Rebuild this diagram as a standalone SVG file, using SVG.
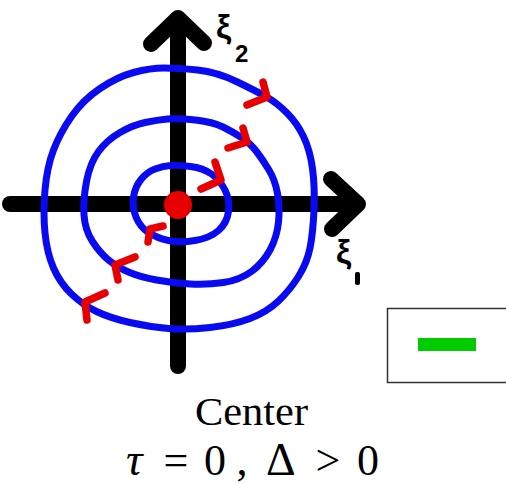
<svg xmlns="http://www.w3.org/2000/svg" width="506" height="484" viewBox="0 0 506 484">
<style>
.axis{fill:none;stroke:#000;stroke-width:16;stroke-linecap:round;stroke-linejoin:round}
.orbit{fill:none;stroke:#0a0af2;stroke-width:7;stroke-linejoin:round;stroke-linecap:round}
.arr{fill:none;stroke:#e80000;stroke-width:7.5;stroke-linecap:round;stroke-linejoin:round}
.hand{font-family:"Liberation Sans","DejaVu Sans",sans-serif;font-weight:bold;fill:#000}
.cap{font-family:"Liberation Serif","DejaVu Serif",serif;fill:#000}
</style>
<rect width="506" height="484" fill="#fff"/>
<g id="axes">
<line class="axis" x1="178" y1="22" x2="178" y2="366"/>
<polyline class="axis" points="151,44 178,18 204,43"/>
<line class="axis" x1="10" y1="204" x2="356" y2="204"/>
<polyline class="axis" points="331,179 358,204 332,229"/>
</g>
<g id="orbits">
<path id="outer" class="orbit" d="M 164,68 Q 178,68 197.5,70 Q 217,72 237.5,82 Q 258,92 267.5,97.5 Q 277,103 287,113 Q 297,123 303.5,136.5 Q 310,150 312.5,168.5 Q 315,187 314,210 Q 313,233 310,248 Q 307,263 298.5,276.5 Q 290,290 278.5,301 Q 267,312 250,318.5 Q 233,325 210,327.5 Q 187,330 168.5,328.5 Q 150,327 130,322.5 Q 110,318 96.5,311.5 Q 83,305 71.5,294 Q 60,283 53.5,268 Q 47,253 45,233 Q 43,213 45,190 Q 47,167 53.5,150 Q 60,133 71.5,116.5 Q 83,100 100,88.5 Q 117,77 133.5,72.5 Q 150,68 164,68 Z"/>
<path id="middle" class="orbit" d="M 167.5,119 Q 178,118 195.5,120 Q 213,122 223,127 Q 233,132 241.5,137.5 Q 250,143 256.5,151.5 Q 263,160 269,170 Q 275,180 277.5,193.5 Q 280,207 278.5,222 Q 277,237 270,250 Q 263,263 251.5,271.5 Q 240,280 223.5,282.5 Q 207,285 190,284 Q 173,283 156.5,280 Q 140,277 128.5,272 Q 117,267 108.5,260 Q 100,253 92.5,241.5 Q 85,230 84,215 Q 83,200 86.5,181.5 Q 90,163 98.5,151.5 Q 107,140 120,132.5 Q 133,125 145,122.5 Q 157,120 167.5,119 Z"/>
<path id="inner" class="orbit" d="M 170.5,165.5 Q 178,165 190.5,166.5 Q 203,168 211.5,174 Q 220,180 225,190 Q 230,200 228.5,211.5 Q 227,223 218.5,230.5 Q 210,238 195,240.5 Q 180,243 168.5,240.5 Q 157,238 148.5,232.5 Q 140,227 136,217 Q 132,207 133.5,197 Q 135,187 141,179.5 Q 147,172 155,169 Q 163,166 170.5,165.5 Z"/>
</g>
<g id="arrows">
<polyline class="arr" points="263,82 267,97 247,105"/>
<polyline class="arr" points="243,128 247,142 228,148"/>
<polyline class="arr" points="215,162 221,180 201,189"/>
<polyline class="arr" points="163,226 150,229 148,242"/>
<polyline class="arr" points="135,257 115,265 118,280"/>
<polyline class="arr" points="105,293 85,302 87,320"/>
</g>
<g id="equilibrium">
<circle cx="178" cy="205" r="14" fill="#e80000"/>
</g>
<g id="label-x2">
<text class="hand" x="216" y="38" font-size="34">ξ</text>
<text class="hand" x="235" y="62" font-size="24">2</text>
</g>
<g id="label-x1">
<text class="hand" x="336" y="263" font-size="34">ξ</text>
<rect x="355" y="272" width="5" height="13" rx="2" fill="#000"/>
</g>
<g id="legend">
<rect x="387.5" y="308.5" width="130" height="74" fill="#fff" stroke="#333" stroke-width="1.5"/>
<rect x="418" y="338" width="58" height="13" fill="#00cc00"/>
</g>
<g id="caption">
<text class="cap" x="251.5" y="425" font-size="40" text-anchor="middle" textLength="113" lengthAdjust="spacingAndGlyphs">Center</text>
<text class="cap" y="475" font-size="44"><tspan x="126" font-size="46" font-style="italic">τ</tspan><tspan x="163.6">=</tspan><tspan x="204">0</tspan><tspan x="236.5">,</tspan><tspan x="266" font-size="46">Δ</tspan><tspan x="315.6">&gt;</tspan><tspan x="357">0</tspan></text>
</g>
</svg>
